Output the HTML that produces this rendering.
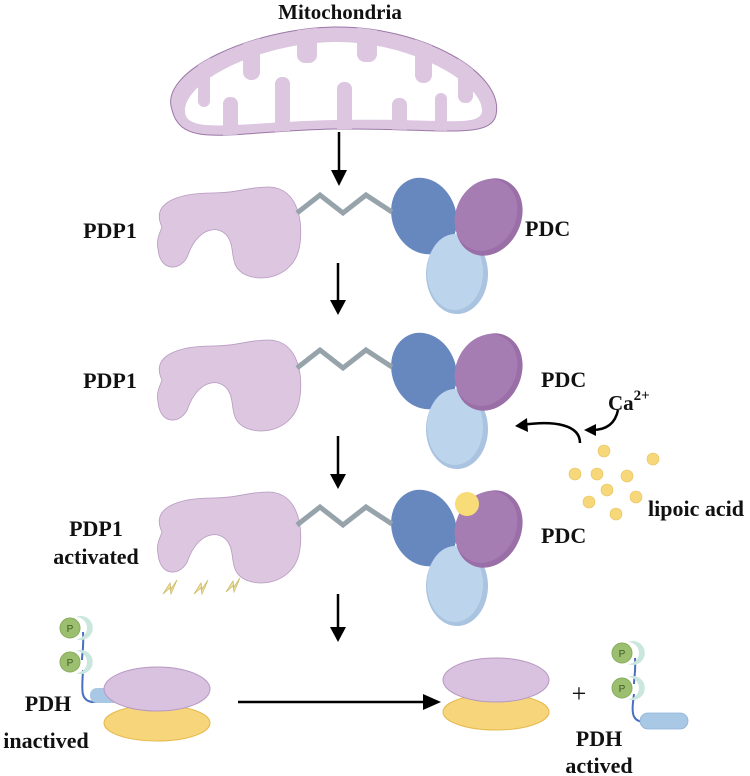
<!DOCTYPE html>
<html><head><meta charset="utf-8"><style>
html,body{margin:0;padding:0;background:#fff;}
svg{display:block;}
text{font-family:"Liberation Serif",serif;font-weight:bold;fill:#111;}
</style></head><body>
<svg width="750" height="776" viewBox="0 0 750 776" xmlns="http://www.w3.org/2000/svg">
<defs>
<clipPath id="mc"><path d="M172,110 C158,70 255,28 335,27 C420,26 505,72 496,115 C490,140 440,128 335,129 C230,131 182,150 172,110Z"/></clipPath>
<g id="pdc">
  <ellipse cx="424" cy="216" rx="32" ry="39" transform="rotate(-20 424 216)" fill="#6787bf"/>
  <ellipse cx="457" cy="274" rx="31" ry="40" fill="#a9c3e0"/>
  <ellipse cx="455" cy="272" rx="28" ry="38" fill="#bcd5ec"/>
  <ellipse cx="489" cy="217" rx="32" ry="40" transform="rotate(25 489 217)" fill="#9a6ea6"/>
  <ellipse cx="486" cy="215" rx="30" ry="37" transform="rotate(25 486 215)" fill="#a57db3"/>
  <polyline points="297,213 320,195 343,213 366,195 392,212" fill="none" stroke="#97a3ab" stroke-width="5"/>
</g>
<path id="blob" d="M162,40 C150,15 180,6 212,6 C238,6 248,0 268,0 C300,0 304,40 299,62 C293,88 265,96 246,88 C228,80 236,62 228,50 C218,36 197,42 188,68 C182,84 160,86 158,62 C156,52 160,46 162,40Z" fill="#dcc6e0" stroke="#b89bc0" stroke-width="0.8"/>
<g id="bolt"><path d="M0,14 L7,3 L8,9 L14,0 L8,14 L7,8 Z" fill="#efe2a0" stroke="#cdbb6a" stroke-width="0.8"/></g>
<g id="pp">
  <path d="M6,-11 A12,12 0 1 1 6,11 A9,9 0 0 0 6,-11Z" fill="#cbe7dd"/>
  <circle cx="0" cy="0" r="10" fill="#9cbf6f" stroke="#86ad5c" stroke-width="1"/>
  <text x="0" y="4" font-size="10" text-anchor="middle" style="font-family:'Liberation Sans',sans-serif;font-weight:normal;fill:#3d5a25">P</text>
</g>
</defs>

<text x="340" y="19" font-size="21" text-anchor="middle">Mitochondria</text>
<path d="M172,110 C158,70 255,28 335,27 C420,26 505,72 496,115 C490,140 440,128 335,129 C230,131 182,150 172,110Z" fill="#dcc6e0" stroke="#9b78a8" stroke-width="1"/>
<path d="M185,112 C183,82 258,43 335,42 C410,41 485,84 482,112 C478,128 440,118 335,120 C240,122 187,135 185,112Z" fill="#fff"/>
<g fill="#dcc6e0" clip-path="url(#mc)">
  <rect x="198" y="20" width="12" height="87" rx="6"/>
  <rect x="243" y="20" width="17" height="60" rx="8"/>
  <rect x="297" y="20" width="20" height="43" rx="8"/>
  <rect x="357" y="20" width="20" height="42" rx="8"/>
  <rect x="415" y="20" width="17" height="63" rx="8"/>
  <rect x="458" y="20" width="15" height="83" rx="7"/>
  <rect x="223" y="97" width="15" height="60" rx="7"/>
  <rect x="275" y="77" width="15" height="70" rx="7"/>
  <rect x="337" y="82" width="15" height="65" rx="7"/>
  <rect x="392" y="98" width="15" height="50" rx="7"/>
  <rect x="435" y="93" width="12" height="55" rx="6"/>
</g>

<g stroke="#000" stroke-width="2.5" fill="#000">
  <line x1="339" y1="132" x2="339" y2="174"/><path d="M331,170 L339,186 L347,170 Z" stroke="none"/>
  <line x1="338" y1="263" x2="338" y2="303"/><path d="M330,300 L338,315 L346,300 Z" stroke="none"/>
  <line x1="338" y1="436" x2="338" y2="477"/><path d="M330,474 L338,489 L346,474 Z" stroke="none"/>
  <line x1="338" y1="594" x2="338" y2="630"/><path d="M330,627 L338,642 L346,627 Z" stroke="none"/>
  <line x1="238" y1="702" x2="428" y2="702"/><path d="M423,694 L441,702 L423,710 Z" stroke="none"/>
</g>

<use href="#blob" transform="translate(0,187)"/>
<use href="#pdc"/>
<text x="110" y="238" font-size="22" text-anchor="middle">PDP1</text>
<text x="525" y="236" font-size="22">PDC</text>

<use href="#blob" transform="translate(0,340)"/>
<use href="#pdc" transform="translate(0,155)"/>
<text x="110" y="388" font-size="22" text-anchor="middle">PDP1</text>
<text x="541" y="387" font-size="22">PDC</text>
<text x="608" y="410" font-size="21">Ca<tspan font-size="15" dy="-10">2+</tspan></text>
<path d="M580,443 C580,425 555,420 522,425" fill="none" stroke="#000" stroke-width="2.5"/>
<path d="M527,418 L515,426 L528,432 Z" fill="#000"/>
<path d="M618,410 C615,425 605,430 592,430" fill="none" stroke="#000" stroke-width="2.5"/>
<path d="M596,424 L584,430 L596,436 Z" fill="#000"/>

<use href="#blob" transform="translate(0,492)"/>
<use href="#pdc" transform="translate(0,312)"/>
<circle cx="467" cy="504" r="12" fill="#f8dc78"/>
<text x="96" y="536" font-size="22" text-anchor="middle">PDP1</text>
<text x="96" y="564" font-size="22" text-anchor="middle">activated</text>
<text x="541" y="543" font-size="22">PDC</text>
<use href="#bolt" transform="translate(163,580)"/>
<use href="#bolt" transform="translate(194,580)"/>
<use href="#bolt" transform="translate(226,578)"/>
<g fill="#f6d77a" stroke="#e8c25c" stroke-width="0.6">
  <circle cx="604" cy="451" r="6"/><circle cx="653" cy="459" r="6"/>
  <circle cx="575" cy="474" r="6"/><circle cx="597" cy="474" r="6"/>
  <circle cx="627" cy="476" r="6"/><circle cx="607" cy="490" r="6"/>
  <circle cx="636" cy="497" r="6"/><circle cx="589" cy="502" r="6"/>
  <circle cx="616" cy="514" r="6"/>
</g>
<text x="648" y="516" font-size="22">lipoic acid</text>

<path d="M83,632 C84,645 82,655 82,660 M83,670 C82,690 80,700 92,702 L100,702" fill="none" stroke="#4a6fbf" stroke-width="2"/>
<rect x="90" y="688" width="30" height="15" rx="7" fill="#a9c8e6"/>
<ellipse cx="157" cy="723" rx="53" ry="18" fill="#f7d57a" stroke="#e6b94d" stroke-width="1"/>
<ellipse cx="157" cy="689" rx="53" ry="22" fill="#d8c2df" stroke="#b798c2" stroke-width="1"/>
<use href="#pp" transform="translate(70,628)"/>
<use href="#pp" transform="translate(70,662)"/>
<text x="48" y="711" font-size="22" text-anchor="middle">PDH</text>
<text x="46" y="748" font-size="22" text-anchor="middle">inactived</text>

<ellipse cx="496" cy="712" rx="53" ry="18" fill="#f7d57a" stroke="#e6b94d" stroke-width="1"/>
<ellipse cx="496" cy="680" rx="53" ry="22" fill="#d8c2df" stroke="#b798c2" stroke-width="1"/>
<text x="579" y="702" font-size="26" text-anchor="middle" style="font-weight:normal">+</text>
<path d="M635,658 C636,670 634,678 634,684 M634,694 C632,710 630,722 645,722" fill="none" stroke="#4a6fbf" stroke-width="2"/>
<rect x="640" y="713" width="48" height="16" rx="8" fill="#a9c8e6" stroke="#8fb1d6" stroke-width="0.8"/>
<use href="#pp" transform="translate(622,653)"/>
<use href="#pp" transform="translate(622,688)"/>
<text x="599" y="746" font-size="22" text-anchor="middle">PDH</text>
<text x="599" y="773" font-size="22" text-anchor="middle">actived</text>
</svg>
</body></html>
